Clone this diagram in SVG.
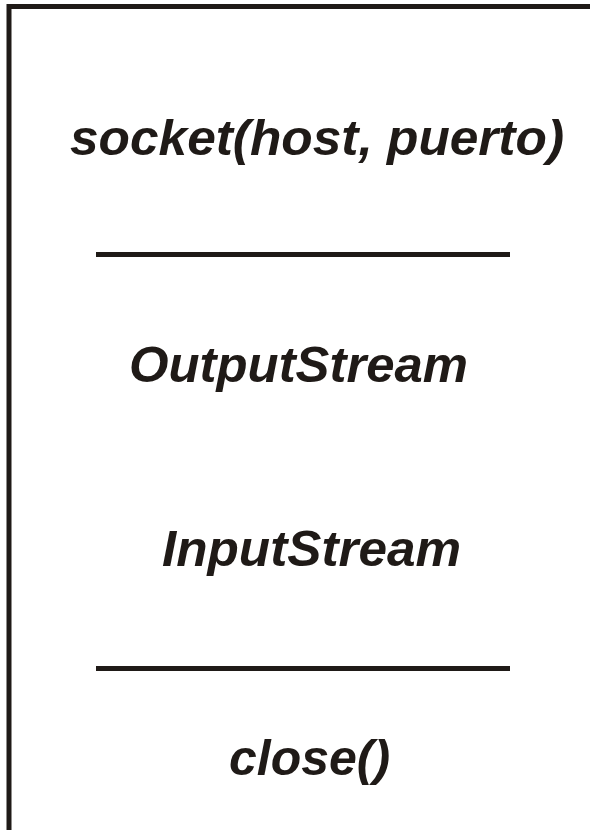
<svg xmlns="http://www.w3.org/2000/svg" width="590" height="830" viewBox="0 0 590 830">
<style>
.t{font-family:"Liberation Sans",Arial,sans-serif;font-weight:bold;font-style:italic;font-size:50px;fill:#1f1a17}
.ln{stroke:#1f1a17;fill:none}
</style>
<rect width="590" height="830" fill="#fff"/>
<g id="frame">
<path class="ln" d="M9 830 V6.5 H590" stroke-width="5"/>
</g>
<g id="sep">
<line class="ln" x1="96" y1="254.5" x2="510" y2="254.5" stroke-width="5"/>
<line class="ln" x1="96" y1="668.5" x2="510" y2="668.5" stroke-width="5"/>
</g>
<g id="socket"><text class="t" x="70" y="155" textLength="494" lengthAdjust="spacingAndGlyphs">socket(host, puerto)</text></g>
<g id="output"><text class="t" x="129" y="382" textLength="339" lengthAdjust="spacingAndGlyphs">OutputStream</text></g>
<g id="input"><text class="t" x="162" y="566" textLength="299" lengthAdjust="spacingAndGlyphs">InputStream</text></g>
<g id="close"><text class="t" x="229" y="775">close()</text></g>
</svg>
